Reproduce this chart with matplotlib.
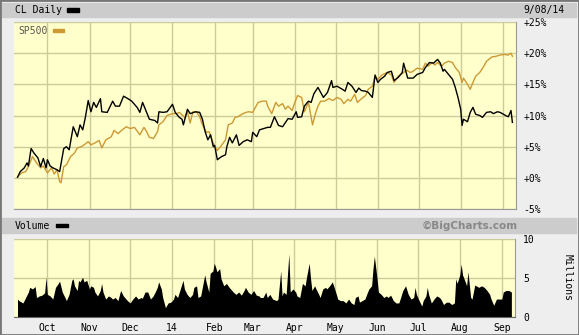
import pandas as pd
import matplotlib
matplotlib.use("Agg")
import matplotlib.pyplot as plt
from matplotlib.patches import Rectangle

START = pd.Timestamp("2013-09-09")

# CL daily, % change since start (days after START)
CL_DAYS = [0, 2, 5, 7, 8, 10, 12, 15, 17, 19,
           21, 22, 24, 26, 29, 31, 34, 36, 38, 41,
           44, 46, 48, 50, 52, 54, 56, 58, 61, 62,
           66, 70, 72, 75, 78, 82, 84, 88, 90, 92,
           95, 97, 101, 103, 104, 107, 110, 114, 116, 119,
           121, 122, 125, 127, 131, 134, 136, 138, 140, 142,
           144, 145, 147, 150, 153, 154, 156, 158, 161, 163,
           166, 169, 172, 173, 176, 178, 181, 184, 186, 189,
           192, 195, 199, 202, 205, 206, 209, 211, 214, 216,
           218, 221, 223, 225, 228, 231, 232, 235, 239, 241,
           243, 246, 249, 251, 253, 256, 258, 261, 263, 265,
           267, 270, 272, 275, 277, 280, 283, 284, 287, 291,
           294, 298, 300, 303, 306, 309, 311, 313, 314, 317,
           320, 322, 324, 326, 327, 328, 331, 333, 335, 337,
           340, 342, 345, 348, 350, 353, 355, 359, 361, 363,
           364]
CL_PCT = [0.1, 1.0, 1.6, 2.4, 1.9, 4.7, 4.0, 3.2, 1.8, 3.1,
          1.6, 2.9, 1.9, 1.6, 1.3, 1.0, 4.7, 5.0, 4.5, 8.2,
          6.6, 8.5, 7.7, 9.8, 12.4, 10.6, 12.1, 11.3, 12.7, 10.6,
          10.5, 12.3, 11.5, 11.5, 13.1, 12.6, 12.3, 11.3, 10.5, 12.1,
          10.5, 9.4, 9.2, 8.8, 10.6, 10.5, 10.6, 11.8, 10.5, 9.7,
          9.4, 8.5, 11.0, 10.3, 10.6, 10.5, 9.4, 7.4, 6.1, 6.9,
          5.0, 5.2, 2.9, 3.4, 3.7, 5.0, 6.5, 5.6, 6.9, 5.2,
          5.8, 6.1, 5.8, 7.3, 6.6, 7.7, 7.9, 8.1, 8.1, 9.8,
          8.4, 8.2, 9.5, 9.4, 10.6, 9.7, 9.8, 11.5, 12.3, 12.1,
          13.5, 14.5, 13.7, 12.9, 13.7, 15.6, 14.5, 14.7, 14.2, 13.9,
          15.3, 14.7, 13.7, 14.4, 14.0, 13.9, 13.7, 12.9, 16.5, 15.3,
          15.8, 16.3, 16.9, 17.1, 15.6, 16.1, 16.9, 18.4, 16.0, 16.0,
          16.6, 16.9, 17.7, 18.5, 18.4, 19.0, 18.4, 17.1, 17.4, 16.6,
          15.8, 14.5, 12.9, 11.0, 8.4, 9.4, 9.0, 10.5, 11.3, 10.2,
          10.0, 9.7, 10.5, 10.6, 10.3, 10.6, 10.5, 10.0, 9.8, 10.8,
          8.9]

# SP500, % change since start
SP_DAYS = [0, 3, 6, 8, 11, 14, 17, 19, 22, 25,
           27, 29, 31, 32, 34, 36, 39, 42, 44, 47,
           49, 52, 54, 57, 60, 62, 65, 69, 71, 74,
           77, 80, 83, 86, 90, 93, 95, 97, 100, 103,
           104, 107, 110, 114, 117, 119, 123, 125, 127, 129,
           132, 134, 136, 139, 141, 143, 145, 147, 150, 153,
           155, 158, 160, 162, 165, 168, 170, 173, 175, 177,
           180, 183, 184, 187, 190, 192, 195, 197, 199, 202,
           204, 206, 209, 211, 214, 217, 219, 221, 223, 226,
           229, 232, 235, 238, 240, 243, 245, 248, 250, 253,
           256, 258, 261, 263, 265, 268, 272, 275, 277, 280,
           284, 286, 289, 291, 294, 298, 300, 302, 305, 307,
           309, 312, 314, 317, 320, 322, 325, 327, 328, 331,
           333, 335, 337, 340, 343, 345, 349, 352, 355, 358,
           361, 363, 364]
SP_PCT = [0.1, 0.8, 1.0, 1.8, 3.4, 2.4, 1.6, 1.9, 0.8, 1.6,
          0.6, 1.3, -0.6, -0.8, 1.8, 2.1, 3.4, 4.0, 4.8, 5.0,
          5.3, 5.8, 5.3, 5.6, 6.0, 4.8, 6.1, 6.6, 7.6, 7.1,
          7.7, 8.2, 7.9, 8.1, 6.9, 8.1, 7.4, 6.5, 6.3, 7.4,
          8.5, 9.0, 10.0, 10.3, 10.3, 10.5, 9.7, 10.6, 8.8, 10.6,
          10.5, 9.8, 8.5, 7.3, 7.4, 6.1, 5.0, 4.4, 5.2, 6.1,
          8.5, 8.8, 9.7, 9.8, 10.2, 10.5, 10.6, 10.5, 11.3, 12.1,
          12.3, 12.3, 11.5, 10.3, 12.1, 11.5, 11.9, 11.0, 11.5, 10.8,
          12.1, 13.2, 12.9, 10.6, 12.1, 8.5, 10.2, 11.5, 12.3, 12.3,
          12.7, 12.4, 12.9, 12.6, 11.9, 12.6, 12.3, 13.4, 12.1, 12.7,
          13.2, 14.2, 14.7, 16.3, 15.8, 16.5, 16.9, 16.5, 15.3, 16.3,
          16.9, 17.3, 16.9, 17.1, 17.6, 17.4, 18.4, 17.9, 18.5, 18.1,
          18.5, 17.9, 18.4, 18.7, 18.5, 17.7, 16.9, 15.3, 16.0, 15.0,
          14.2, 15.3, 16.3, 16.9, 17.9, 18.7, 19.4, 19.5, 19.7, 19.8,
          19.7, 20.0, 19.5]

# volume, millions
VOL_DAYS = [0, 1, 4, 6, 8, 9, 11, 13, 14, 16,
            18, 20, 21, 22, 24, 26, 28, 30, 31, 33,
            35, 36, 38, 40, 41, 42, 44, 45, 46, 48,
            49, 51, 53, 54, 56, 57, 59, 61, 62, 63,
            65, 67, 69, 70, 72, 74, 76, 78, 80, 81,
            83, 85, 87, 89, 91, 92, 94, 96, 98, 100,
            102, 103, 104, 106, 107, 109, 111, 113, 115, 116,
            118, 120, 122, 123, 125, 127, 129, 130, 132, 133,
            135, 136, 138, 139, 141, 142, 144, 145, 146, 147,
            149, 150, 152, 154, 156, 157, 159, 161, 163, 165,
            167, 168, 170, 172, 174, 176, 178, 179, 181,
            183, 184, 186, 188, 191, 192, 194, 195, 196, 198,
            200, 201, 203, 205, 206, 208, 210, 212, 213, 215,
            216, 217, 219, 220, 222, 223, 225, 227, 228, 230,
            232, 233, 235, 236, 238, 240, 242, 244, 246, 248,
            249, 251, 252, 254, 256, 258, 259, 261, 262, 263,
            265, 266, 268, 270, 272, 273, 275, 277, 279, 281,
            282, 284, 286, 288, 290, 292, 293, 294, 296, 298,
            299, 301, 302, 303, 305, 307, 309, 311, 312, 314,
            316, 318, 320, 322, 323, 324, 326, 327, 328, 330,
            331, 332, 334, 335, 337, 338, 340, 342, 344, 346,
            348, 349, 351, 353, 355, 357, 358, 360, 362, 364]
VOL_MIL = [2.3, 2.1, 1.8, 2.5, 3.2, 3.8, 3.6, 3.9, 2.5, 2.7,
           2.8, 3.1, 5.1, 2.9, 2.7, 2.3, 3.8, 4.3, 4.6, 3.2,
           2.5, 2.1, 2.9, 4.7, 4.9, 4.0, 3.4, 4.7, 4.5, 5.1,
           4.5, 4.7, 3.6, 4.0, 3.8, 3.2, 2.7, 3.4, 4.3, 3.2,
           2.3, 2.7, 2.5, 2.3, 2.5, 2.1, 3.4, 2.7, 2.3, 2.1,
           1.8, 2.3, 2.7, 2.3, 2.5, 2.4, 3.2, 3.2, 2.3, 2.7,
           3.4, 3.8, 4.5, 3.6, 2.5, 1.2, 1.8, 1.9, 2.3, 2.9,
           2.5, 3.6, 4.7, 3.6, 2.9, 2.5, 2.9, 3.8, 4.0, 2.5,
           2.7, 3.6, 5.4, 4.5, 3.2, 5.6, 5.9, 6.9, 6.4, 5.8,
           6.2, 4.9, 4.0, 4.3, 3.8, 3.6, 3.2, 2.9, 3.2, 2.8,
           3.4, 3.8, 3.2, 2.9, 3.4, 2.8, 2.7, 2.5, 2.5,
           3.2, 2.5, 2.9, 2.3, 2.1, 2.3, 5.9, 2.7, 3.2, 2.9,
           8.1, 3.2, 3.6, 3.2, 2.7, 2.5, 4.3, 4.0, 5.1, 6.9,
           4.9, 3.4, 4.0, 3.6, 2.9, 2.5, 3.6, 3.8, 3.6, 4.0,
           4.5, 4.0, 2.9, 2.3, 2.1, 2.1, 1.8, 2.3, 1.8, 1.6,
           2.5, 2.7, 1.9, 2.1, 2.3, 3.2, 3.6, 4.0, 6.2, 7.8,
           4.9, 3.2, 2.9, 2.5, 2.7, 2.5, 2.8, 2.1, 1.8, 1.8,
           2.3, 3.4, 4.0, 2.9, 2.3, 2.5, 3.8, 2.9, 2.1, 1.4,
           2.1, 2.7, 3.8, 2.9, 1.8, 2.3, 2.7, 2.5, 2.3, 1.6,
           1.9, 1.9, 1.6, 1.8, 4.9, 4.3, 5.4, 6.8, 5.4, 4.5,
           4.0, 5.8, 2.5, 2.3, 4.1, 4.0, 3.8, 4.0, 3.8, 3.4,
           2.9, 2.3, 1.5, 2.3, 2.3, 2.3, 3.2, 3.4, 3.4, 3.2]

MONTHS = pd.date_range("2013-10-01", "2014-09-01", freq="MS")
MONTH_LABELS = ["Oct", "Nov", "Dec", "14", "Feb", "Mar", "Apr",
                "May", "Jun", "Jul", "Aug", "Sep"]
PCT_TICKS = [-5, 0, 5, 10, 15, 20, 25]
VOL_TICKS = [0, 5, 10]

MONO = "DejaVu Sans Mono"
BG = "#eeeeee"
PLOT_BG = "#ffffcc"
GRID = "#cccc99"
ORANGE = "#cc9933"


def dates(days):
    return START + pd.to_timedelta(days, unit="D")


def style_axis(ax):
    ax.set_facecolor(PLOT_BG)
    ax.grid(True, color=GRID, lw=1)
    ax.set_axisbelow(True)
    ax.set_xticks(MONTHS)
    ax.set_xlim(START - pd.Timedelta(hours=62), START + pd.Timedelta(hours=8800))
    ax.yaxis.tick_right()
    ax.tick_params(length=0, labelsize=7, colors="black")
    for lab in ax.get_xticklabels() + ax.get_yticklabels():
        lab.set_family(MONO)
    for side in ("top", "left"):
        ax.spines[side].set_visible(False)
    for side in ("bottom", "right"):
        ax.spines[side].set_color("#999999")


fig = plt.figure(figsize=(5.79, 3.35), dpi=100, facecolor=BG)
W, H = 579, 335


def fx(px):
    return px / W


def fy(py):
    return 1 - py / H


# header bars
fig.patches.append(Rectangle((fx(2), fy(17)), fx(574), 14 / H, color="#cccccc",
                             transform=fig.transFigure, zorder=0))
fig.patches.append(Rectangle((fx(2), fy(233)), fx(574), 15 / H, color="#cccccc",
                             transform=fig.transFigure, zorder=0))

# price panel
ax = fig.add_axes([fx(14), fy(209), fx(502), 187 / H])
ax.plot(dates(SP_DAYS), SP_PCT, color=ORANGE, lw=1)
ax.plot(dates(CL_DAYS), CL_PCT, color="black", lw=1)
ax.set_ylim(-5, 25)
ax.set_yticks(PCT_TICKS)
ax.set_yticklabels([f"{v:+d}%" for v in PCT_TICKS])
style_axis(ax)
ax.tick_params(axis="y", pad=5.5)
ax.set_xticklabels([])

# volume panel
vx = fig.add_axes([fx(14), fy(317), fx(501), 78 / H])
vx.fill_between(dates(VOL_DAYS), VOL_MIL, 0, color="black", lw=0)
vx.set_ylim(0, 10)
vx.set_yticks(VOL_TICKS)
style_axis(vx)
vx.set_xticklabels(MONTH_LABELS)
vx.tick_params(axis="y", pad=6)
vx.tick_params(axis="x", pad=4)
vx.spines["bottom"].set_color("#666666")

# texts
fig.text(fx(15), fy(10), "CL Daily", family=MONO, fontsize=7, va="center")
fig.patches.append(Rectangle((fx(67), fy(11.5)), fx(12), 3.5 / H, color="black",
                             transform=fig.transFigure))
fig.text(fx(565), fy(9.5), "9/08/14", family=MONO, fontsize=7, va="center", ha="right")
fig.text(fx(18), fy(30.5), "SP500", family=MONO, fontsize=7, va="center", color="#555555")
fig.patches.append(Rectangle((fx(53), fy(32)), fx(11), 3 / H, color=ORANGE,
                             transform=fig.transFigure, zorder=5))
fig.text(fx(15), fy(226), "Volume", family=MONO, fontsize=7, va="center")
fig.patches.append(Rectangle((fx(56), fy(227)), fx(12), 3.5 / H, color="black",
                             transform=fig.transFigure))
fig.text(fx(470), fy(225.5), "\u00a9BigCharts.com", fontsize=7.5, weight="bold",
         color="#888888", ha="center", va="center")
fig.text(fx(568), fy(277), "Millions", family=MONO, fontsize=7, rotation=270,
         ha="center", va="center")

# outer border
fig.patches.append(Rectangle((0, 0), 1, 1, fill=False, edgecolor="#777777", lw=2,
                             transform=fig.transFigure))

fig.savefig("out.png", dpi=100, facecolor=BG)
